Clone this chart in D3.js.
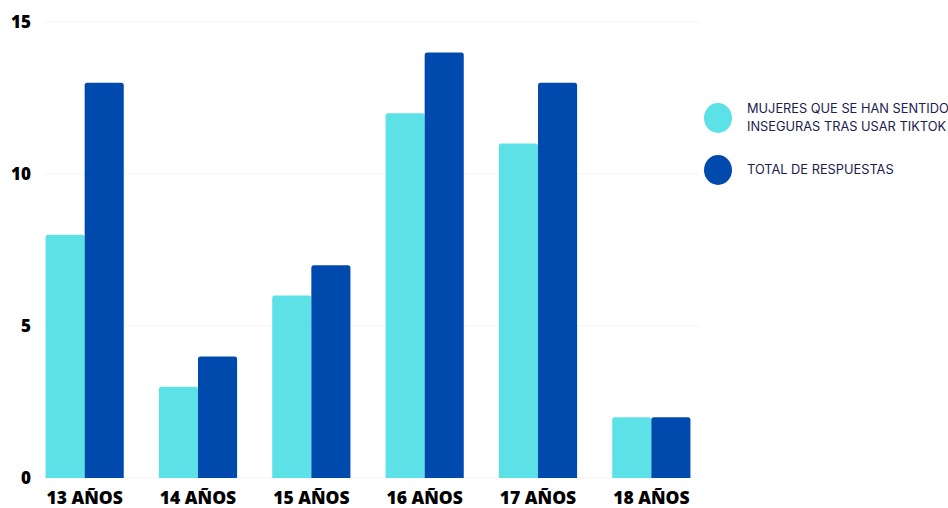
<!DOCTYPE html>
<html lang="es">
<head>
<meta charset="utf-8">
<title>Chart</title>
<script src="https://cdn.jsdelivr.net/npm/d3@7"></script>
<style>
  body { margin: 0; background: #fff; }
  .tick text { font-family: "Open Sans", sans-serif; font-weight: 800; fill: #000; }
</style>
</head>
<body>
<script>
// data
var categories = ["13 AÑOS", "14 AÑOS", "15 AÑOS", "16 AÑOS", "17 AÑOS", "18 AÑOS"];
var seriesNames = ["MUJERES QUE SE HAN SENTIDO\nINSEGURAS TRAS USAR TIKTOK", "TOTAL DE RESPUESTAS"];
var inseguras = [8, 3, 6, 12, 11, 2];
var total = [13, 4, 7, 14, 13, 2];
var yTicks = [0, 5, 10, 15];
var colors = ["#5ce1e6", "#004aad"];

var w = 948, h = 508;
var svg = d3.select("body").append("svg").attr("width", w).attr("height", h);

// scales
var x = d3.scaleBand().domain(categories).range([28, 708]).paddingInner(0.31).paddingOuter(0.155);
var x1 = d3.scaleBand().domain([0, 1]).range([0, x.bandwidth()]);
var y = d3.scaleLinear().domain([0, 15]).range([478, 22]);

// faint gridlines
svg.append("g")
  .selectAll("line").data(yTicks).join("line")
  .attr("x1", 44).attr("x2", 700)
  .attr("y1", d => y(d)).attr("y2", d => y(d))
  .attr("stroke", "#f5f5f5").attr("stroke-width", 1);

// y axis
var yAxis = svg.append("g")
  .attr("transform", "translate(31,0)")
  .call(d3.axisLeft(y).tickValues(yTicks).tickSize(0).tickPadding(0));
yAxis.select(".domain").remove();
yAxis.selectAll("text").attr("font-size", 17).attr("dy", "0.35em");

// x axis
var xAxis = svg.append("g")
  .attr("transform", "translate(0,478)")
  .call(d3.axisBottom(x).tickSize(0).tickPadding(14));
xAxis.select(".domain").remove();
xAxis.selectAll("text").attr("font-size", 17.5);

// bars with slightly rounded tops
function barPath(x0, y0, bw, bh) {
  var r = Math.min(2.5, bh);
  return "M" + x0 + "," + (y0 + bh) +
    "V" + (y0 + r) + "Q" + x0 + "," + y0 + " " + (x0 + r) + "," + y0 +
    "H" + (x0 + bw - r) + "Q" + (x0 + bw) + "," + y0 + " " + (x0 + bw) + "," + (y0 + r) +
    "V" + (y0 + bh) + "Z";
}

var rows = categories.map((c, i) => ({ cat: c, vals: [inseguras[i], total[i]] }));
var groups = svg.append("g").selectAll("g").data(rows).join("g")
  .attr("transform", d => "translate(" + x(d.cat) + ",0)");
groups.selectAll("path").data(d => d.vals.map((v, k) => ({ v: v, k: k }))).join("path")
  .attr("fill", d => colors[d.k])
  .attr("d", d => barPath(x1(d.k), y(d.v), x1.bandwidth(), y(0) - y(d.v)));

// legend
var legend = svg.append("g");
var legY = [118, 170];
seriesNames.forEach(function(name, i) {
  legend.append("ellipse")
    .attr("cx", 718).attr("cy", legY[i]).attr("rx", 14).attr("ry", 15)
    .attr("fill", colors[i]);
  var lines = name.split("\n");
  var t = legend.append("text")
    .attr("x", 747)
    .attr("y", legY[i] - (lines.length - 1) * 9)
    .attr("font-family", "Inter, sans-serif")
    .attr("font-size", 12.8)
    .attr("fill", "#1b2050");
  lines.forEach(function(l, j) {
    t.append("tspan").attr("x", 747).attr("dy", j === 0 ? "0.35em" : 18).text(l);
  });
});
</script>
</body>
</html>
